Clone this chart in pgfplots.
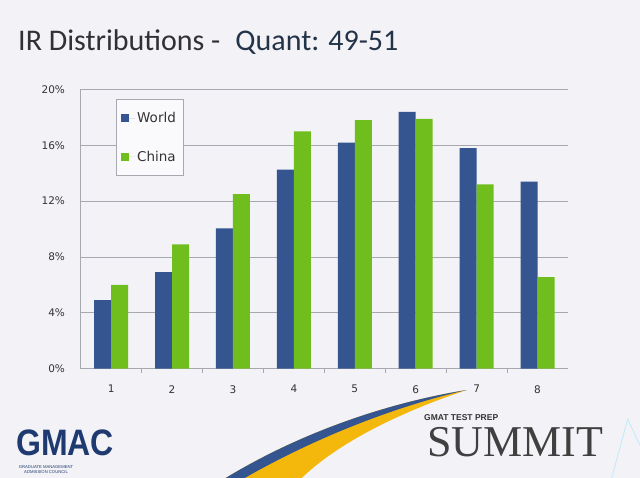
\documentclass[border=0pt]{standalone}
\usepackage{pgfplots}
\pgfplotsset{compat=1.18}
\usepackage{fontspec}
\setmainfont{DejaVu Sans}
\newfontfamily\titlefont{Carlito}
\newfontfamily\seriffont{Liberation Serif}
\newfontfamily\arialfont{Liberation Sans}
\definecolor{world}{HTML}{34558F}
\definecolor{china}{HTML}{70BE1E}
\definecolor{bgcol}{HTML}{F3F2F7}
\definecolor{gridcol}{HTML}{A8A8B0}
\definecolor{titlecol}{HTML}{303035}
\definecolor{quantcol}{HTML}{243448}
\definecolor{gmac}{HTML}{1E3A70}
\definecolor{swoosh}{HTML}{F4B80C}
\begin{document}
\begin{tikzpicture}
\path[use as bounding box, fill=bgcol] (-80.7bp,-109.5bp) rectangle (559.3bp,368.5bp);
\begin{axis}[
  scale only axis, width=487.3bp, height=279bp,
  at={(0,0)}, anchor=south west,
  xmin=0.5, xmax=8.5, ymin=0, ymax=20,
  ybar=0pt, bar width=17bp,
  xtick={1,2,3,4,5,6,7,8},
  xticklabels={1,2,3,4,5,6,7,8},
  minor xtick={1.5,2.5,3.5,4.5,5.5,6.5,7.5},
  major x tick style={draw=none},
  minor tick length=4bp,
  tick align=outside,
  ytick={0,4,8,12,16,20},
  yticklabels={0\%,4\%,8\%,12\%,16\%,20\%},
  major y tick style={draw=none},
  ymajorgrids, grid style={draw=gridcol, line width=0.7bp},
  minor tick style={draw=gridcol, line width=0.7bp},
  axis x line*=bottom, axis y line*=left,
  axis line style={-, draw=gridcol, line width=0.7bp},
  tick label style={font=\fontsize{10.5bp}{12bp}\selectfont, text=black!80},
  yticklabel style={xshift=-8bp},
  xticklabel style={yshift=-9bp},
  legend style={at={(0.0724,0.966)}, anchor=north west, draw=gridcol, fill=white!60!bgcol,
    font=\fontsize{13.5bp}{15bp}\selectfont, text=black!80,
    row sep=23bp, inner xsep=5bp, inner ysep=11bp, cells={anchor=west}},
  legend cell align=left,
]
\addplot[fill=world, draw=none, legend image code/.code={\path (0bp,0bp) -- (14bp,0bp); \fill[world] (0bp,-4bp) rectangle (8bp,4bp);}]
  coordinates {(1,4.9) (2,6.9) (3,10.05) (4,14.25) (5,16.2) (6,18.4) (7,15.8) (8,13.4)};
\addlegendentry{World}
\addplot[fill=china, draw=none, legend image code/.code={\path (0bp,0bp) -- (14bp,0bp); \fill[china] (0bp,-4bp) rectangle (8bp,4bp);}]
  coordinates {(1,6.0) (2,8.9) (3,12.5) (4,17.0) (5,17.8) (6,17.9) (7,13.2) (8,6.55)};
\addlegendentry{China}
\end{axis}
% title
\node[anchor=base west, inner sep=0, font=\titlefont\fontsize{30bp}{35bp}\selectfont] at (-62.7bp,317.5bp)
  {\textcolor{titlecol}{IR Distributions -}\hspace{0.5em}\textcolor{quantcol}{Quant: 49-51}};
% swoosh decoration
\fill[swoosh] (145bp,-109.5bp) .. controls (230bp,-58bp) and (320bp,-32bp) .. (386bp,-21.5bp)
  .. controls (330bp,-40bp) and (262bp,-70bp) .. (221bp,-109.5bp) -- cycle;
\fill[world] (145bp,-109.5bp) .. controls (230bp,-58bp) and (320bp,-32bp) .. (386bp,-21.5bp)
  .. controls (322bp,-36bp) and (240bp,-66bp) .. (164bp,-109.5bp) -- cycle;
\draw[cyan!25, line width=0.8bp] (531bp,-109.5bp) -- (547bp,-50.5bp) -- (559.3bp,-77bp);
% logos
\node[anchor=south west, inner sep=0, font=\arialfont\bfseries\fontsize{32bp}{32bp}\selectfont, text=gmac]
  at (-64.7bp,-87.5bp) {\scalebox{1.0}[1.15]{GMAC}};
\node[anchor=north west, inner sep=0, font=\arialfont\fontsize{4.2bp}{5.8bp}\selectfont, text=gmac, align=center]
  at (-62bp,-96.5bp) {GRADUATE MANAGEMENT\\ADMISSION COUNCIL};
\node[anchor=south west, inner sep=0, font=\arialfont\bfseries\fontsize{8.5bp}{9bp}\selectfont, text=black!80]
  at (343.3bp,-52bp) {GMAT TEST PREP};
\node[anchor=base west, inner sep=0, font=\seriffont\fontsize{44bp}{44bp}\selectfont, text=black!75]
  at (346.3bp,-88bp) {SUMMIT};
\end{tikzpicture}
\end{document}
